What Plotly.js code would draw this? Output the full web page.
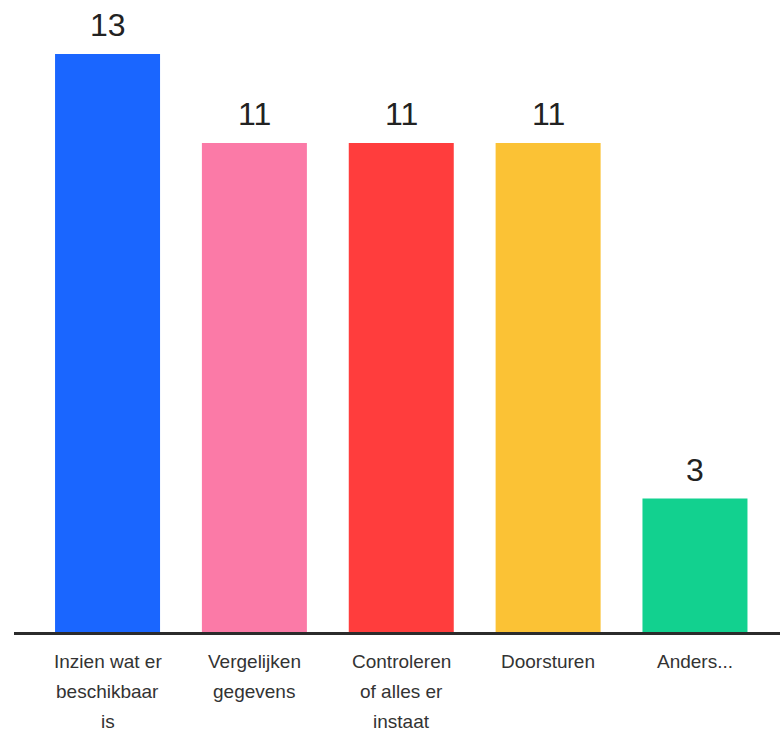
<!DOCTYPE html>
<html>
<head>
<meta charset="utf-8">
<script src="https://cdn.plot.ly/plotly-3.0.1.min.js"></script>
<style>
  html, body { margin: 0; padding: 0; background: #ffffff; }
  #chart { width: 780px; height: 739px; }
</style>
</head>
<body>
<div id="chart"></div>
<script>
// Antwoordcategorieën en aantallen
const categories = [
  "Inzien wat er beschikbaar is",
  "Vergelijken gegevens",
  "Controleren of alles er instaat",
  "Doorsturen",
  "Anders..."
];
// Asteksten, regel voor regel
const tickLabels = [
  ["Inzien wat er", "beschikbaar", "is"],
  ["Vergelijken", "gegevens"],
  ["Controleren", "of alles er", "instaat"],
  ["Doorsturen"],
  ["Anders..."]
];
const counts = [13, 11, 11, 11, 3];
const barColors = ["#1a66ff", "#fb7aa7", "#ff3d3d", "#fbc235", "#12d18f"];

const labelFont = "'Liberation Sans', Arial, sans-serif";
const lineStep = 30;

const trace = {
  type: "bar",
  x: categories,
  y: counts,
  width: 0.715,
  marker: { color: barColors, line: { width: 0 } },
  hoverinfo: "skip"
};

// Waardelabels boven elke staaf
const valueLabels = categories.map((c, i) => ({
  x: c,
  y: counts[i],
  xref: "x",
  yref: "y",
  text: String(counts[i]),
  showarrow: false,
  yanchor: "middle",
  yshift: 29,
  font: { family: labelFont, size: 32, color: "#222222" }
}));

// Categorielabels onder de as, met ruime regelafstand
const categoryLabels = [];
categories.forEach((c, i) => {
  tickLabels[i].forEach((line, k) => {
    categoryLabels.push({
      x: c,
      y: 0,
      xref: "x",
      yref: "y",
      text: line,
      showarrow: false,
      yanchor: "top",
      yshift: -(17 + lineStep * k),
      font: { family: labelFont, size: 19, color: "#333333" }
    });
  });
});

const layout = {
  width: 780,
  height: 739,
  margin: { l: 14, r: 0, t: 0, b: 107 },
  paper_bgcolor: "#ffffff",
  plot_bgcolor: "#ffffff",
  showlegend: false,
  xaxis: {
    type: "category",
    range: [-0.637, 4.579],
    showticklabels: false,
    showline: true,
    linecolor: "#2b2b2b",
    linewidth: 3,
    showgrid: false,
    zeroline: false,
    ticks: "",
    fixedrange: true
  },
  yaxis: {
    range: [0, 14.215],
    visible: false,
    showgrid: false,
    zeroline: false,
    fixedrange: true
  },
  annotations: valueLabels.concat(categoryLabels)
};

Plotly.newPlot("chart", [trace], layout, { displayModeBar: false, staticPlot: true });
</script>
</body>
</html>
